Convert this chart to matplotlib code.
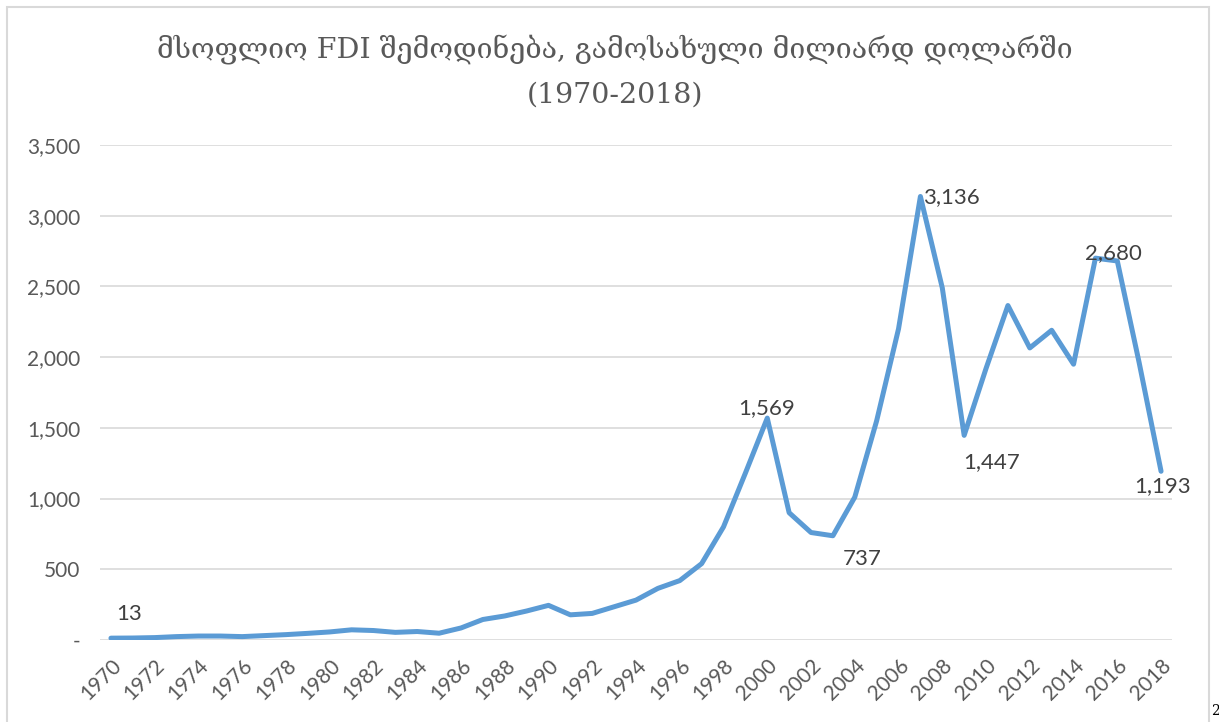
import matplotlib
matplotlib.use("Agg")
import matplotlib.pyplot as plt
from matplotlib.patches import Rectangle

years = list(range(1970, 2019))
fdi = [13, 14, 17, 24, 28, 28, 24, 31, 38, 47,
       57, 72, 67, 54, 60, 48, 85, 145, 170, 205,
       245, 178, 188, 235, 282, 365, 420, 540, 800, 1180,
       1569, 900, 760, 737, 1010, 1550, 2200, 3136, 2490, 1447,
       1920, 2365, 2065, 2190, 1950, 2700, 2680, 1960, 1193]

ytick_values = [0, 500, 1000, 1500, 2000, 2500, 3000, 3500]
ytick_labels = ["-", "500", "1,000", "1,500", "2,000", "2,500", "3,000", "3,500"]
xtick_years = list(range(1970, 2019, 2))

title_line1 = "მსოფლიო FDI შემოდინება, გამოსახული მილიარდ დოლარში"
title_line2 = "(1970-2018)"

labeled_years = [1970, 2000, 2003, 2007, 2009, 2016, 2018]
# (dx, dy in px, ha, va)
label_style = {
    1970: (18, 24, "center", "center"),
    2000: (-1, 0, "center", "bottom"),
    2003: (29, -23, "center", "center"),
    2007: (3, -1, "left", "center"),
    2009: (27, -27, "center", "center"),
    2016: (-4, -2, "center", "bottom"),
    2018: (1, -5, "center", "top"),
}

W, H = 1219, 722
fig = plt.figure(figsize=(W / 100, H / 100), dpi=100)
fig.patch.set_facecolor("white")

left, right = 100 / W, 1172 / W
bottom, top = (H - 640) / H, (H - 145) / H
ax = fig.add_axes([left, bottom, right - left, top - bottom])

line_color = "#5B9BD5"
ax.plot(years, fdi, color=line_color, lw=3.6, solid_joinstyle="round",
        solid_capstyle="round", zorder=3)

ax.set_xlim(1969.5, 2018.5)
ax.set_ylim(0, 3500)
ax.set_yticks(ytick_values)
ax.set_yticklabels(ytick_labels)
ax.set_xticks(xtick_years)
ax.set_xticklabels([str(y) for y in xtick_years], rotation=45, ha="right",
                   rotation_mode="anchor")

for lab in ax.get_yticklabels():
    lab.set_fontfamily("Lato")
    lab.set_fontsize(15)
    lab.set_color("#595959")
for lab in ax.get_xticklabels():
    lab.set_fontfamily("Lato")
    lab.set_fontsize(15)
    lab.set_color("#595959")

ax.tick_params(axis="both", length=0)
ax.tick_params(axis="y", pad=14)
ax.tick_params(axis="x", pad=11)
ax.grid(axis="y", color="#D9D9D9", lw=1.2, zorder=0)
ax.set_axisbelow(True)
for s in ax.spines.values():
    s.set_visible(False)

px = 0.72
for y in labeled_years:
    v = fdi[years.index(y)]
    dx, dy, ha, va = label_style[y]
    ax.annotate(f"{v:,}", xy=(y, v), xytext=(dx * px, dy * px),
                textcoords="offset points", ha=ha, va=va,
                fontsize=16, family="Lato", color="#404040", zorder=4)

title_family = ["DejaVu Serif", "DejaVu Sans"]
fig.text(615 / W, 1 - 50 / H, title_line1, ha="center", va="center",
         fontsize=20.5, family=title_family, color="#595959")
fig.text(615 / W, 1 - 95 / H, title_line2, ha="center", va="center",
         fontsize=20.5, family=title_family, color="#595959")

border = Rectangle((7 / W, -0.05), (1209 - 7) / W, 1.05 - 7 / H,
                   transform=fig.transFigure, fill=False,
                   edgecolor="#D9D9D9", lw=1.5, clip_on=False)
fig.add_artist(border)

fig.text(1211 / W, 1 - 711 / H, "2", ha="left", va="center", fontsize=10,
         family="DejaVu Serif", color="black")

fig.savefig("out.png", dpi=100)
